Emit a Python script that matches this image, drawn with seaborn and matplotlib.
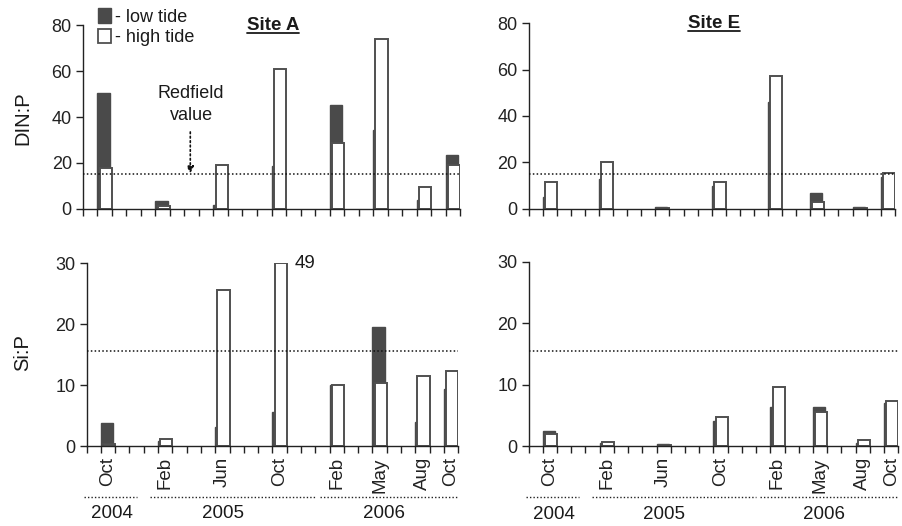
import numpy as np
import pandas as pd
import seaborn as sns
import matplotlib.pyplot as plt
from matplotlib.patches import Patch
from matplotlib.lines import Line2D
from matplotlib import transforms

# months on the axis: Sep 2004 .. Oct 2006 (one slot per month)
all_months = pd.period_range('2004-09', '2006-10', freq='M').strftime('%b %Y').tolist()

sample_months = ['Oct 2004', 'Feb 2005', 'Jun 2005', 'Oct 2005',
                 'Feb 2006', 'May 2006', 'Aug 2006', 'Oct 2006']
month_labels = ['Oct', 'Feb', 'Jun', 'Oct', 'Feb', 'May', 'Aug', 'Oct']

din_low_A = [50.6, 3.6, 1.6, 18.8, 45.2, 34.3, 3.8, 23.4]
din_high_A = [17.9, 1.3, 19.3, 60.8, 28.8, 73.9, 9.6, 19.3]
din_low_E = [5.2, 13.0, 1.0, 9.7, 46.0, 6.9, 1.0, 13.8]
din_high_E = [11.6, 20.2, 0.5, 11.6, 57.2, 2.9, 0.5, 15.6]

sip_low_A = [3.7, 0.9, 3.2, 5.5, 10.0, 19.5, 3.9, 9.3]
sip_high_A = [0.3, 1.1, 25.6, 49.0, 10.0, 10.3, 11.4, 12.3]
sip_low_E = [2.5, 0.45, 0.3, 4.1, 6.4, 6.4, 0.45, 7.0]
sip_high_E = [2.0, 0.6, 0.2, 4.8, 9.7, 5.6, 1.0, 7.4]

redfield_din = 15.0
redfield_sip = 15.5

years = ['2004', '2005', '2006']
year_spans = [(-0.65, 3.05), (3.95, 15.5), (15.8, 25.5)]
year_centers = [1.3, 9.05, 20.3]

DARK = '#4a4a4a'
EDGE = '#505050'
TXT = '#1a1a1a'

sns.set_theme(style='ticks')
plt.rcParams['font.family'] = ['Liberation Sans', 'DejaVu Sans']
plt.rcParams['axes.edgecolor'] = '#222222'
plt.rcParams['xtick.color'] = '#222222'
plt.rcParams['ytick.color'] = '#222222'
plt.rcParams['text.color'] = TXT

fig = plt.figure(figsize=(9.02, 5.26), dpi=100)

# axes rectangles [left, bottom, width, height] in figure fraction
rects = {
    'TL': [0.092, 0.603, 0.418, 0.349],
    'TR': [0.586, 0.603, 0.406, 0.353],
    'BL': [0.096, 0.152, 0.412, 0.348],
    'BR': [0.586, 0.152, 0.410, 0.350],
}


def draw_panel(ax, low, high, ymax, yticks, redfield, bottom):
    df = pd.DataFrame({'month': sample_months, 'low': low, 'high': high})
    sns.barplot(data=df, x='month', y='low', order=all_months, ax=ax,
                color=DARK, edgecolor=DARK, linewidth=1.0, width=0.85,
                saturation=1, errorbar=None)
    n_low = len(ax.patches)
    sns.barplot(data=df, x='month', y='high', order=all_months, ax=ax,
                color='white', edgecolor=EDGE, linewidth=1.4, width=0.85,
                saturation=1, errorbar=None)
    # low-tide bar to the left, high-tide bar overlapping to the right;
    # off-scale bars are cut at the top of the axis
    for i, p in enumerate(ax.patches):
        p.set_x(p.get_x() + (-0.075 if i < n_low else 0.075))
        if p.get_height() > ymax:
            p.set_height(ymax)

    ax.axhline(redfield, color='#111111', ls=(0, (1, 1.5)), lw=1.1, zorder=5)

    ax.set_xlim(-0.5, len(all_months) - 0.5)
    ax.set_ylim(0, ymax)
    ax.set_yticks(yticks)
    ax.set_xticks(np.arange(-0.5, len(all_months), 1.0))
    ax.set_xticklabels([])
    ax.set_xlabel('')
    ax.set_ylabel('')
    ax.tick_params(axis='both', which='major', direction='out', length=5,
                   width=1, labelsize=13, pad=3)
    sns.despine(ax=ax)
    for s in ['left', 'bottom']:
        ax.spines[s].set_linewidth(1.0)

    if bottom:
        pos = [all_months.index(m) for m in sample_months]
        ax.set_xticks(pos, labels=month_labels, minor=True)
        ax.tick_params(axis='x', which='minor', length=0, labelsize=13.5,
                       labelrotation=90, pad=8)
        trans = transforms.blended_transform_factory(ax.transData, ax.transAxes)
        for yr, (x0, x1), xc in zip(years, year_spans, year_centers):
            ax.plot([x0, x1], [-0.277, -0.277], transform=trans, clip_on=False,
                    color='#222222', ls=(0, (1, 1.5)), lw=1.0)
            ax.text(xc, -0.37, yr, transform=trans, ha='center', va='center',
                    fontsize=13.5)


ax_tl = fig.add_axes(rects['TL'])
ax_tr = fig.add_axes(rects['TR'])
ax_bl = fig.add_axes(rects['BL'])
ax_br = fig.add_axes(rects['BR'])

draw_panel(ax_tl, din_low_A, din_high_A, 80, [0, 20, 40, 60, 80], redfield_din, False)
draw_panel(ax_tr, din_low_E, din_high_E, 80, [0, 20, 40, 60, 80], redfield_din, False)
draw_panel(ax_bl, sip_low_A, sip_high_A, 30, [0, 10, 20, 30], redfield_sip, True)
draw_panel(ax_br, sip_low_E, sip_high_E, 30, [0, 10, 20, 30], redfield_sip, True)

fig.text(0.025, 0.775, 'DIN:P', rotation=90, ha='center', va='center', fontsize=14.5)
fig.text(0.025, 0.33, 'Si:P', rotation=90, ha='center', va='center', fontsize=14.5)

# Redfield annotation
ax_tl.text(6.95, 45.5, 'Redfield\nvalue', ha='center', va='center',
           fontsize=13, linespacing=1.4)
ax_tl.annotate('', xy=(6.9, 15.4), xytext=(6.9, 33.5),
               arrowprops=dict(arrowstyle='-|>', ls=':', lw=1.2,
                               color='#111111', mutation_scale=10,
                               shrinkA=0, shrinkB=0))

# off-scale value
ax_bl.text(14.05, 30, '49', ha='left', va='center', fontsize=13.5)

# site titles, underlined
titles = []
titles.append(fig.text(0.303, 0.952, 'Site A', ha='center', va='center',
                       fontsize=13.5, fontweight='bold'))
titles.append(fig.text(0.792, 0.956, 'Site E', ha='center', va='center',
                       fontsize=13.5, fontweight='bold'))
fig.canvas.draw()
inv = fig.transFigure.inverted()
for t in titles:
    bb = t.get_window_extent()
    (x0, y0), (x1, _) = inv.transform([(bb.x0, bb.y0 + 1), (bb.x1, bb.y0)])
    fig.add_artist(Line2D([x0, x1], [y0, y0], transform=fig.transFigure,
                          color=TXT, lw=1.3))

# legend
handles = [Patch(facecolor=DARK, edgecolor=DARK),
           Patch(facecolor='white', edgecolor=EDGE, linewidth=1.3)]
fig.legend(handles=handles, labels=['- low tide', '- high tide'],
           loc='upper left', bbox_to_anchor=(0.105, 0.991), frameon=False,
           fontsize=13, handlelength=0.7, handleheight=0.85,
           handletextpad=0.2, labelspacing=0.15, borderpad=0.2,
           borderaxespad=0)

fig.savefig('out.png', dpi=100)
